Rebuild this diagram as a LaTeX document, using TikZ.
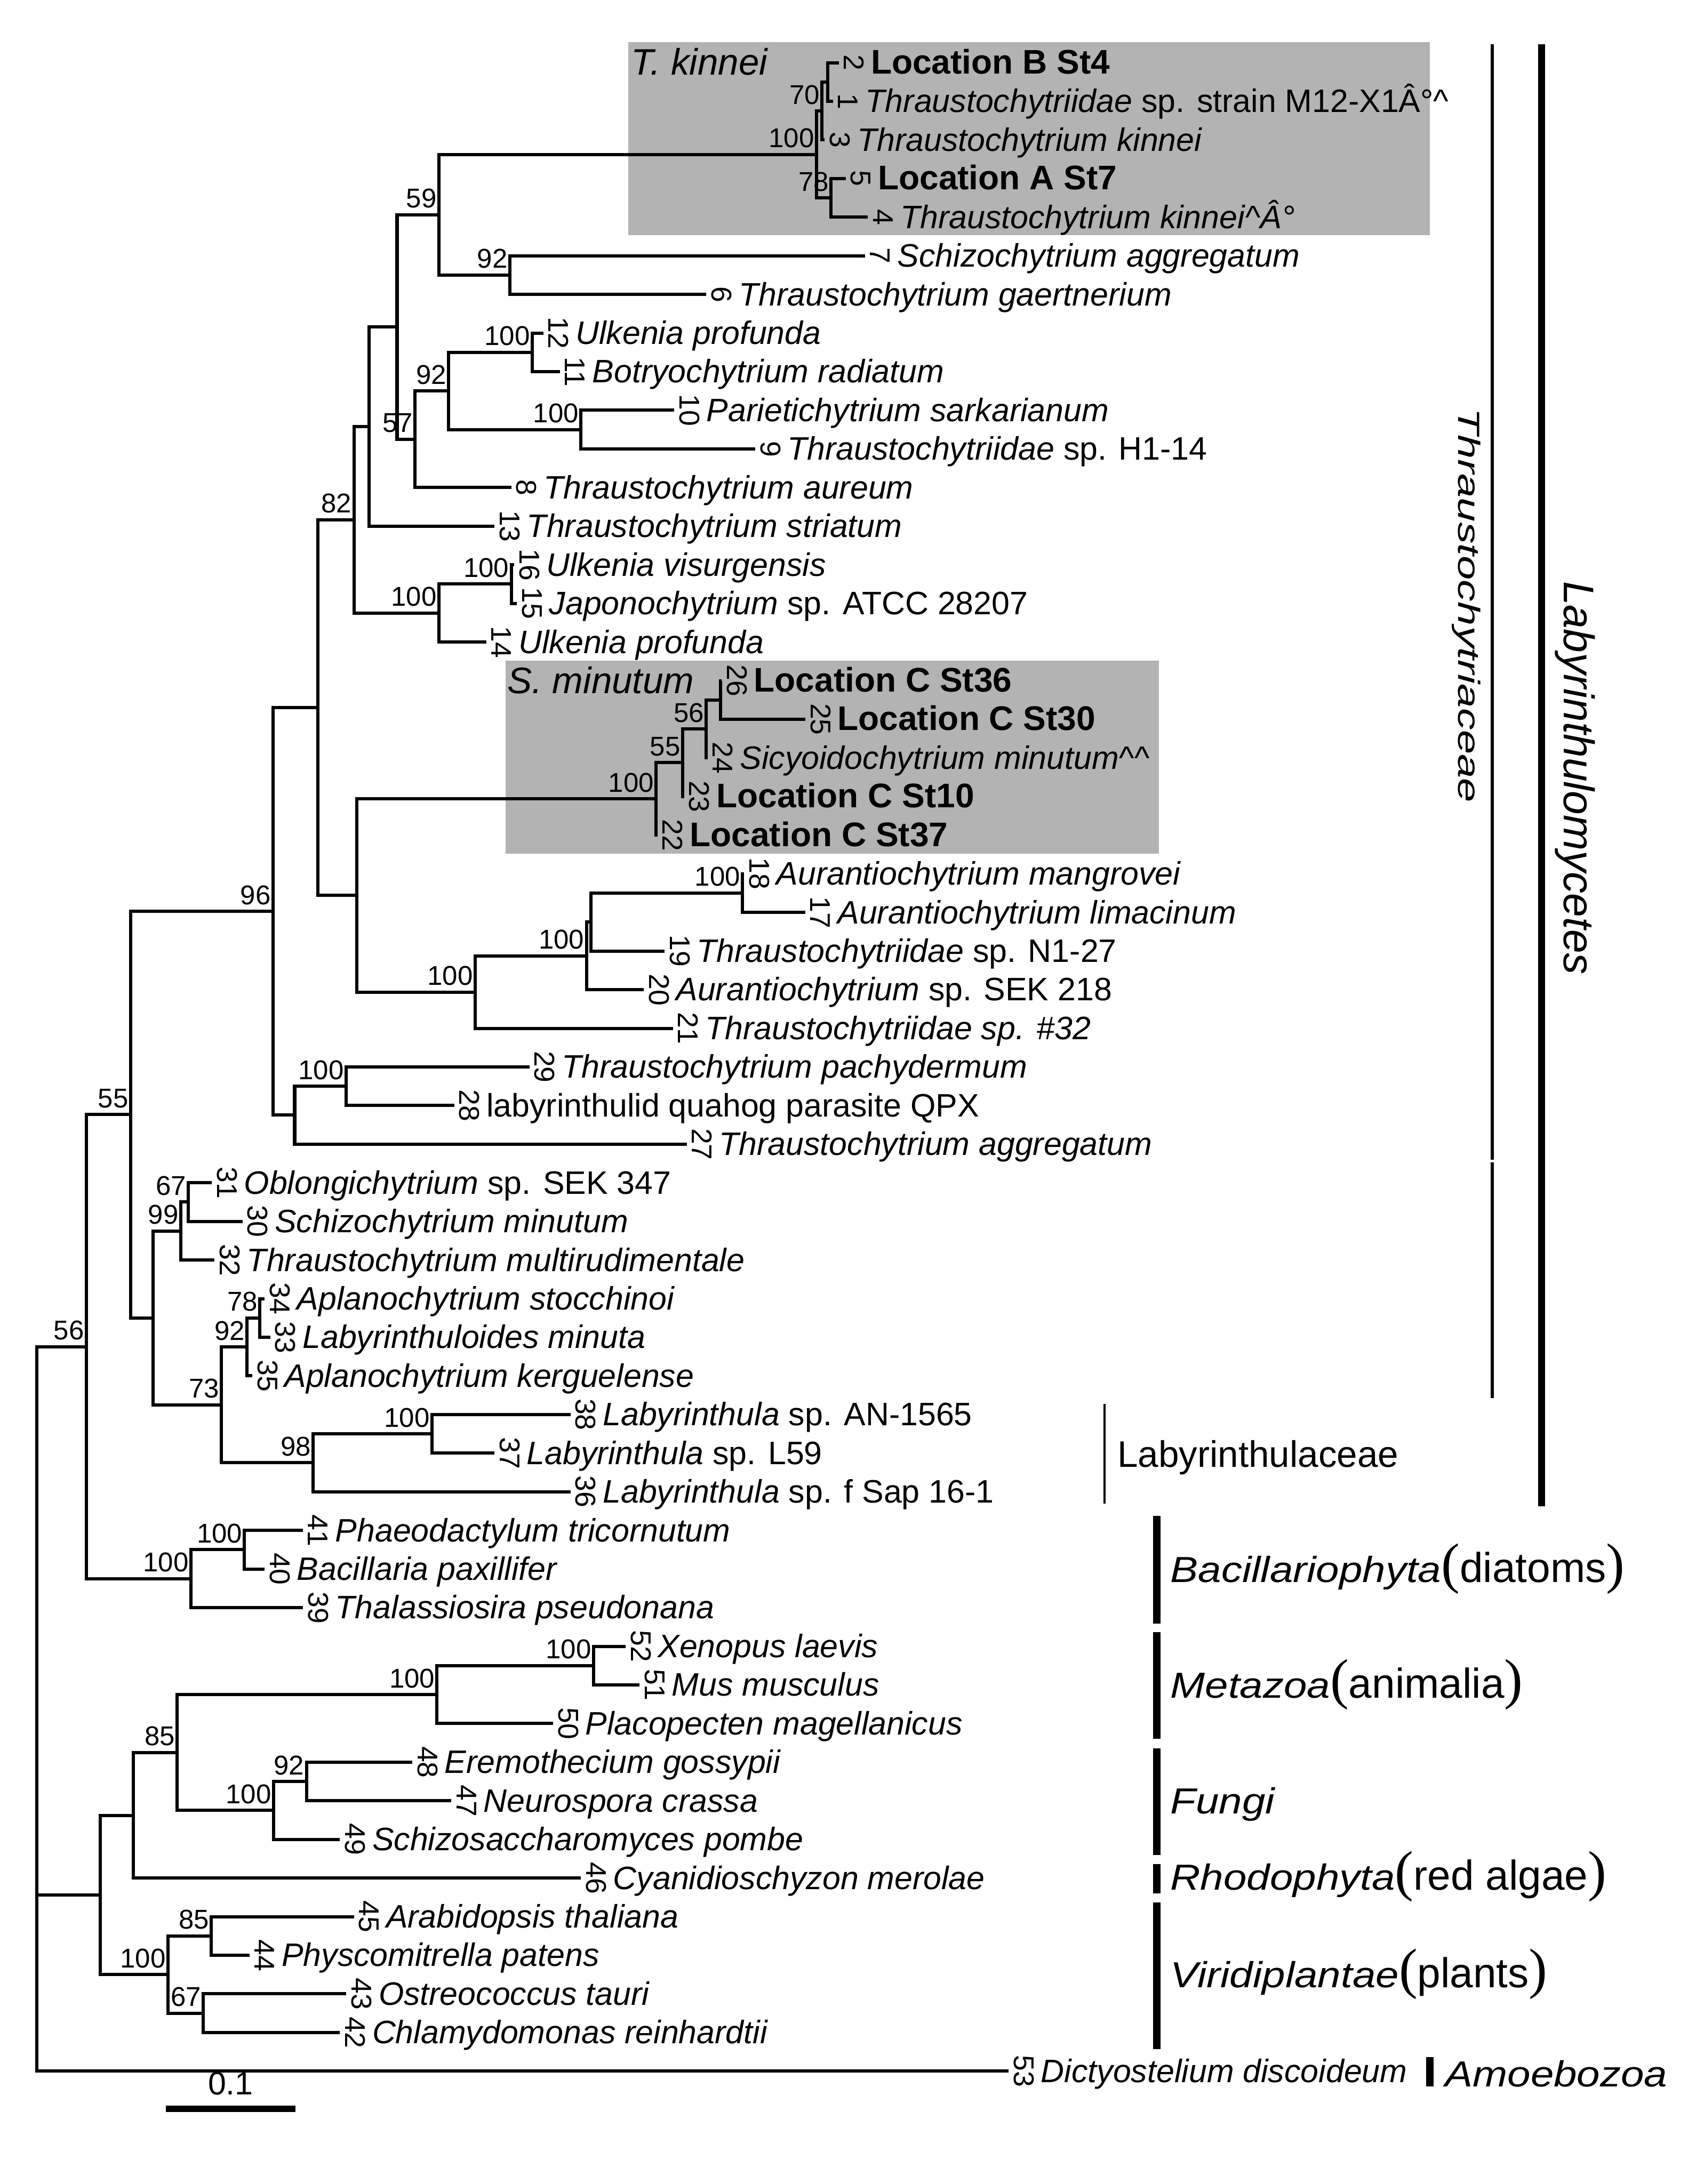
\documentclass[tikz,border=0pt]{standalone}
\usepackage{fontspec}
\setmainfont{Liberation Sans}
\newfontfamily\parenfont{Liberation Serif}
\usepackage{graphicx}
\definecolor{boxgray}{RGB}{179,179,179}
\tikzset{
  br/.style={line width=2.3pt, line join=miter},
  tipnum/.style={rotate=-90, anchor=south, inner sep=0pt, font=\fontsize{20.5}{20.5}\selectfont},
  tipname/.style={anchor=base west, inner sep=0pt, font=\fontsize{23.3}{28}\selectfont},
  boot/.style={anchor=base east, inner sep=0pt, font=\fontsize{19.5}{19.5}\selectfont},
  grp/.style={anchor=base west, inner sep=0pt, font=\fontsize{30}{32}\selectfont},
  cladelab/.style={anchor=base west, inner sep=0pt, font=\fontsize{26.5}{30}\selectfont\itshape},
  bar/.style={line width=5.5pt},
}
\newcommand{\addtip}[5]{%
  \coordinate (#1) at (#2,{45+27.73*(#3-1)});
  \node[tipnum] (num#1) at ([xshift=3.5pt]#1) {#4};
  \node[tipname] (lab#1) at ([xshift=23pt,yshift=-8pt]#1) {#5};}
\newcommand{\bsv}[2]{\node[boot] (b#1) at ([xshift=-1.5pt,yshift=5pt]#1) {#2};}
\newcommand{\locb}[1]{{\fontsize{24.5}{28}\selectfont\bfseries #1}}
\newcommand{\grpit}[1]{\scalebox{1.15}[1]{\fontsize{26}{30}\selectfont\itshape #1}}
\newcommand{\gparen}[1]{{\parenfont\fontsize{40}{40}\selectfont #1}}
\begin{document}
\begin{tikzpicture}[x=1pt,y=-1pt]
\useasboundingbox (0,0) rectangle (1223,1568);
\fill[white] (0,0) rectangle (1223,1568);
% shaded clades
\fill[boxgray] (451,30.4) rectangle (1026.3,169);
\fill[boxgray] (363,474.3) rectangle (832,613);
\node[cladelab] (tkin) at (453,53.7) {T. kinnei};
\node[cladelab] (smin) at (364,498) {S. minutum};

% tips
\addtip{t2}{602}{1}{2}{\locb{Location B St4}}
\addtip{t1}{598}{2}{1}{\textit{Thraustochytriidae} sp. strain M12-X1Â°\textasciicircum}
\addtip{t3}{592}{3}{3}{\textit{Thraustochytrium kinnei}}
\addtip{t5}{607}{4}{5}{\locb{Location A St7}}
\addtip{t4}{623}{5}{4}{\textit{Thraustochytrium kinnei\textasciicircum Â°}}
\addtip{t7}{621}{6}{7}{\textit{Schizochytrium aggregatum}}
\addtip{t6}{507}{7}{6}{\textit{Thraustochytrium gaertnerium}}
\addtip{t12}{390}{8}{12}{\textit{Ulkenia profunda}}
\addtip{t11}{402}{9}{11}{\textit{Botryochytrium radiatum}}
\addtip{t10}{484}{10}{10}{\textit{Parietichytrium sarkarianum}}
\addtip{t9}{542}{11}{9}{\textit{Thraustochytriidae} sp. H1-14}
\addtip{t8}{367}{12}{8}{\textit{Thraustochytrium aureum}}
\addtip{t13}{355}{13}{13}{\textit{Thraustochytrium striatum}}
\addtip{t16}{369}{14}{16}{\textit{Ulkenia visurgensis}}
\addtip{t15}{371}{15}{15}{\textit{Japonochytrium} sp. ATCC 28207}
\addtip{t14}{349}{16}{14}{\textit{Ulkenia profunda}}
\addtip{t26}{518}{17}{26}{\locb{Location C St36}}
\addtip{t25}{578}{18}{25}{\locb{Location C St30}}
\addtip{t24}{508}{19}{24}{\textit{Sicyoidochytrium minutum\textasciicircum\textasciicircum}}
\addtip{t23}{491}{20}{23}{\locb{Location C St10}}
\addtip{t22}{472}{21}{22}{\locb{Location C St37}}
\addtip{t18}{534}{22}{18}{\textit{Aurantiochytrium mangrovei}}
\addtip{t17}{578}{23}{17}{\textit{Aurantiochytrium limacinum}}
\addtip{t19}{477}{24}{19}{\textit{Thraustochytriidae} sp. N1-27}
\addtip{t20}{462}{25}{20}{\textit{Aurantiochytrium} sp. SEK 218}
\addtip{t21}{483}{26}{21}{\textit{Thraustochytriidae sp. \#32}}
\addtip{t29}{380}{27}{29}{\textit{Thraustochytrium pachydermum}}
\addtip{t28}{326}{28}{28}{labyrinthulid quahog parasite QPX}
\addtip{t27}{493}{29}{27}{\textit{Thraustochytrium aggregatum}}
\addtip{t31}{152}{30}{31}{\textit{Oblongichytrium} sp. SEK 347}
\addtip{t30}{174}{31}{30}{\textit{Schizochytrium minutum}}
\addtip{t32}{154}{32}{32}{\textit{Thraustochytrium multirudimentale}}
\addtip{t34}{190}{33}{34}{\textit{Aplanochytrium stocchinoi}}
\addtip{t33}{194}{34}{33}{\textit{Labyrinthuloides minuta}}
\addtip{t35}{181}{35}{35}{\textit{Aplanochytrium kerguelense}}
\addtip{t38}{409.5}{36}{38}{\textit{Labyrinthula} sp. AN-1565}
\addtip{t37}{355}{37}{37}{\textit{Labyrinthula} sp. L59}
\addtip{t36}{409.5}{38}{36}{\textit{Labyrinthula} sp. f Sap 16-1}
\addtip{t41}{217.5}{39}{41}{\textit{Phaeodactylum tricornutum}}
\addtip{t40}{190}{40}{40}{\textit{Bacillaria paxillifer}}
\addtip{t39}{217.5}{41}{39}{\textit{Thalassiosira pseudonana}}
\addtip{t52}{449}{42}{52}{\textit{Xenopus laevis}}
\addtip{t51}{459}{43}{51}{\textit{Mus musculus}}
\addtip{t50}{397}{44}{50}{\textit{Placopecten magellanicus}}
\addtip{t48}{296}{45}{48}{\textit{Eremothecium gossypii}}
\addtip{t47}{324}{46}{47}{\textit{Neurospora crassa}}
\addtip{t49}{244}{47}{49}{\textit{Schizosaccharomyces pombe}}
\addtip{t46}{417}{48}{46}{\textit{Cyanidioschyzon merolae}}
\addtip{t45}{254}{49}{45}{\textit{Arabidopsis thaliana}}
\addtip{t44}{179}{50}{44}{\textit{Physcomitrella patens}}
\addtip{t43}{248.6}{51}{43}{\textit{Ostreococcus tauri}}
\addtip{t42}{244}{52}{42}{\textit{Chlamydomonas reinhardtii}}
\addtip{t53}{724}{53}{53}{\textit{Dictyostelium discoideum}}

% internal nodes
\coordinate (kt) at (594,58.87);
\coordinate (ks) at (590,79.67);
\coordinate (k78) at (596.5,142.06);
\coordinate (k100) at (586,110.86);
\coordinate (a92) at (366,197.5);
\coordinate (n59) at (315,154.2);
\coordinate (nD) at (382,252.98);
\coordinate (nE) at (417,308.43);
\coordinate (nC) at (322,280.7);
\coordinate (nB) at (298,315.37);
\coordinate (nA) at (285,234.8);
\coordinate (nF) at (265,306.3);
\coordinate (nH) at (367,419.36);
\coordinate (nG) at (315,440.16);
\coordinate (n82) at (254,373.2);
\coordinate (sX) at (517,502.55);
\coordinate (s56) at (507,523.35);
\coordinate (s55) at (490,547.6);
\coordinate (s100) at (471,573.6);
\coordinate (aW) at (533,641.2);
\coordinate (aV1) at (424,662);
\coordinate (aV) at (421,686.26);
\coordinate (aU) at (341,712.26);
\coordinate (nJ) at (256,642.9);
\coordinate (nK) at (228,508.05);
\coordinate (nQ) at (248.4,779.85);
\coordinate (nL) at (211.5,800.6);
\coordinate (n96) at (196,654.3);
\coordinate (l67) at (135.3,863);
\coordinate (l99) at (129.8,883.8);
\coordinate (l78) at (186.5,946.2);
\coordinate (l92) at (177.3,967);
\coordinate (l100) at (310,1029.4);
\coordinate (l98) at (224.8,1050.2);
\coordinate (l73) at (159,1008.6);
\coordinate (lM) at (109.7,946.2);
\coordinate (n55) at (93.8,800.25);
\coordinate (bP) at (175.5,1112.6);
\coordinate (bO) at (137,1133.4);
\coordinate (nN) at (62,966.8);
\coordinate (mX) at (426,1195.8);
\coordinate (mM) at (313.7,1216.6);
\coordinate (f92) at (220,1279);
\coordinate (f100) at (196.3,1299.8);
\coordinate (o85) at (127.2,1258.2);
\coordinate (oT) at (95.8,1303.3);
\coordinate (p85) at (151.7,1389.9);
\coordinate (p67) at (146,1445.4);
\coordinate (p100) at (120.6,1417.6);
\coordinate (oS) at (72,1360.5);
\coordinate (root) at (26.3,1200);

% branches
\draw[br] (t2) -| (kt) |- (t1);
\draw[br] (kt) -| (ks) |- (t3);
\draw[br] (t5) -| (k78) |- (t4);
\draw[br] (ks) -| (k100) |- (k78);
\draw[br] (t7) -| (a92) |- (t6);
\draw[br] (k100) -| (n59) |- (a92);
\draw[br] (t12) -| (nD) |- (t11);
\draw[br] (t10) -| (nE) |- (t9);
\draw[br] (nD) -| (nC) |- (nE);
\draw[br] (nC) -| (nB) |- (t8);
\draw[br] (n59) -| (nA) |- (nB);
\draw[br] (nA) -| (nF) |- (t13);
\draw[br] (t16) -| (nH) |- (t15);
\draw[br] (nH) -| (nG) |- (t14);
\draw[br] (nF) -| (n82) |- (nG);
\draw[br] (t26) -| (sX) |- (t25);
\draw[br] (sX) -| (s56) |- (t24);
\draw[br] (s56) -| (s55) |- (t23);
\draw[br] (s55) -| (s100) |- (t22);
\draw[br] (t18) -| (aW) |- (t17);
\draw[br] (aW) -| (aV1) |- (t19);
\draw[br] (aV1) -| (aV) |- (t20);
\draw[br] (aV) -| (aU) |- (t21);
\draw[br] (s100) -| (nJ) |- (aU);
\draw[br] (n82) -| (nK) |- (nJ);
\draw[br] (t29) -| (nQ) |- (t28);
\draw[br] (nQ) -| (nL) |- (t27);
\draw[br] (nK) -| (n96) |- (nL);
\draw[br] (t31) -| (l67) |- (t30);
\draw[br] (l67) -| (l99) |- (t32);
\draw[br] (t34) -| (l78) |- (t33);
\draw[br] (l78) -| (l92) |- (t35);
\draw[br] (t38) -| (l100) |- (t37);
\draw[br] (l100) -| (l98) |- (t36);
\draw[br] (l92) -| (l73) |- (l98);
\draw[br] (l99) -| (lM) |- (l73);
\draw[br] (n96) -| (n55) |- (lM);
\draw[br] (t41) -| (bP) |- (t40);
\draw[br] (bP) -| (bO) |- (t39);
\draw[br] (n55) -| (nN) |- (bO);
\draw[br] (t52) -| (mX) |- (t51);
\draw[br] (mX) -| (mM) |- (t50);
\draw[br] (t48) -| (f92) |- (t47);
\draw[br] (f92) -| (f100) |- (t49);
\draw[br] (mM) -| (o85) |- (f100);
\draw[br] (o85) -| (oT) |- (t46);
\draw[br] (t45) -| (p85) |- (t44);
\draw[br] (t43) -| (p67) |- (t42);
\draw[br] (p85) -| (p100) |- (p67);
\draw[br] (oT) -| (oS) |- (p100);
\draw[br] (nN) -| (root) |- (t53);
\draw[br] (root |- oS) -- (oS);

% bootstrap values
\bsv{k100}{100} \bsv{ks}{70} \bsv{k78}{78} \bsv{n59}{59} \bsv{a92}{92}
\bsv{nD}{100} \bsv{nE}{100} \bsv{nC}{92} \bsv{nB}{57} \bsv{n82}{82}
\bsv{nH}{100} \bsv{nG}{100} \bsv{s56}{56} \bsv{s55}{55} \bsv{s100}{100}
\bsv{aW}{100} \bsv{aV}{100} \bsv{aU}{100} \bsv{n96}{96} \bsv{nQ}{100}
\bsv{n55}{55} \bsv{l67}{67} \bsv{l99}{99} \bsv{l78}{78} \bsv{l92}{92}
\bsv{l73}{73} \bsv{l100}{100} \bsv{l98}{98} \bsv{bP}{100} \bsv{bO}{100}
\bsv{nN}{56} \bsv{mX}{100} \bsv{mM}{100} \bsv{f92}{92} \bsv{f100}{100}
\bsv{o85}{85} \bsv{p85}{85} \bsv{p100}{100} \bsv{p67}{67}

% right-hand brackets
\draw[line width=2.2pt] (1071,31.8) -- (1071,832.5);
\draw[line width=2.2pt] (1071,834.5) -- (1071,1003.8);
\draw[line width=5pt] (1106.5,31.8) -- (1106.5,1081.6);
\draw[line width=1.8pt] (792.8,1007.8) -- (792.8,1079.5);
\node[rotate=-90, anchor=base, inner sep=0pt, font=\fontsize{22}{24}\selectfont] (thr) at (1046.7,434.7) {\scalebox{1.42}[1]{\itshape Thraustochytriaceae}};
\node[rotate=-90, anchor=base, inner sep=0pt, font=\fontsize{30.8}{32}\selectfont\itshape] (laby) at (1122.5,558.6) {Labyrinthulomycetes};
\node[anchor=base west, inner sep=0pt, font=\fontsize{26.5}{30}\selectfont] (labc) at (801.8,1053.4) {Labyrinthulaceae};

\draw[bar] (830.2,1088.3) -- (830.2,1165.5);
\draw[bar] (830.2,1171.8) -- (830.2,1248.4);
\draw[bar] (830.2,1255.2) -- (830.2,1331.7);
\draw[bar] (830.2,1338.3) -- (830.2,1359.5);
\draw[bar] (830.2,1365.9) -- (830.2,1471);
\draw[line width=5pt] (1026.3,1477) -- (1026.3,1498);
\node[grp] (g1) at (839.9,1136) {\grpit{Bacillariophyta}\gparen{(}diatoms\gparen{)}};
\node[grp] (g2) at (839.9,1219) {\grpit{Metazoa}\gparen{(}animalia\gparen{)}};
\node[grp] (g3) at (839.9,1302) {\grpit{Fungi}};
\node[grp] (g4) at (839.9,1357) {\grpit{Rhodophyta}\gparen{(}red algae\gparen{)}};
\node[grp] (g5) at (839.9,1427) {\grpit{Viridiplantae}\gparen{(}plants\gparen{)}};
\node[grp] (g6) at (1037,1498) {\grpit{Amoebozoa}};

% scale bar
\draw[line width=4.3pt] (119,1514) -- (212,1514);
\node[anchor=base, inner sep=0pt, font=\fontsize{23.3}{28}\selectfont] (scl) at (165.5,1504) {0.1};
\end{tikzpicture}
\end{document}
